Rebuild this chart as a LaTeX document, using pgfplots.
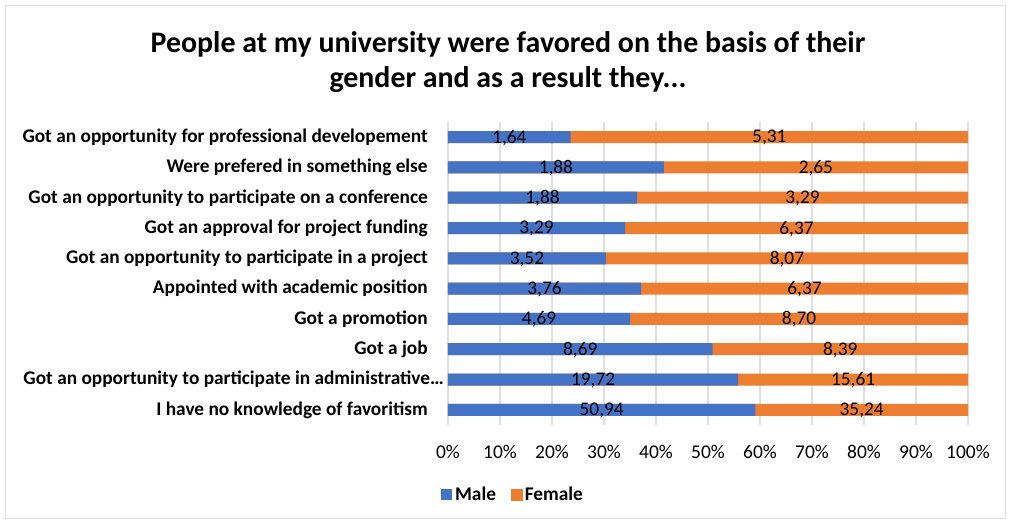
\documentclass[border=0pt]{standalone}
\usepackage{pgfplots}
\usepackage{pgfplotstable}
\pgfplotsset{compat=1.18}
\usepackage{fontspec}
\setmainfont{Carlito}
\definecolor{xlblue}{HTML}{4472C4}
\definecolor{xlorange}{HTML}{ED7D31}
\pgfplotstableread{
idx male female mlab flab
0 50.94 35.24 50,94 35,24
1 19.72 15.61 19,72 15,61
2 8.69 8.39 8,69 8,39
3 4.69 8.70 4,69 8,70
4 3.76 6.37 3,76 6,37
5 3.52 8.07 3,52 8,07
6 3.29 6.37 3,29 6,37
7 1.88 3.29 1,88 3,29
8 1.88 2.65 1,88 2,65
9 1.64 5.31 1,64 5,31
}\datatable
\begin{document}
\begin{tikzpicture}
\useasboundingbox (0,0) rectangle (758.25pt,393pt);
\draw[black!12, line width=0.8pt] (4.2pt,4pt) rectangle (754pt,389.2pt);
\node[font=\fontsize{22.4}{26.3}\selectfont\bfseries, align=center] at (381pt,346.5pt)
 {People at my university were favored on the basis of their\\gender and as a result they...};
\begin{axis}[
  at={(336pt,74.25pt)}, anchor=south west,
  scale only axis, width=390pt, height=227.25pt,
  xmin=0, xmax=100, ymin=-0.5, ymax=9.5,
  axis line style={draw=none},
  major tick length=0pt,
  xmajorgrids, grid style={black!12, line width=0.8pt},
  xtick={0,10,...,100},
  xticklabel={\pgfmathprintnumber{\tick}\%},
  /pgf/number format/assume math mode=true,
  xticklabel style={font=\fontsize{14.6}{17}\selectfont, anchor=center, yshift=-20pt},
  ytick={0,...,9},
  yticklabels={I have no knowledge of favoritism,
    Got an opportunity to participate in administrative…\hspace*{-12pt},
    Got a job, Got a promotion, Appointed with academic position,
    Got an opportunity to participate in a project,
    Got an approval for project funding,
    Got an opportunity to participate on a conference,
    Were prefered in something else,
    Got an opportunity for professional developement},
  yticklabel style={font=\fontsize{14.5}{17}\selectfont\bfseries, anchor=east, inner sep=0pt, xshift=-15pt},
  every node near coord/.style={anchor=center, font=\fontsize{14.5}{17}\selectfont, text=black, yshift=-0.5pt},
  legend columns=2,
  legend style={draw=none, at={(0.126,-0.229)}, anchor=center,
    font=\fontsize{14.5}{17}\selectfont\bfseries,
    /tikz/every odd column/.append style={column sep=0pt},
    /tikz/every even column/.append style={column sep=9pt}},
  legend cell align=left,
]
\addplot[xbar, bar width=9pt, bar shift=0pt, fill=xlorange, draw=none, forget plot]
  table[x expr={100*(\thisrow{male}+\thisrow{female})/(\thisrow{male}+\thisrow{female})}, y=idx] {\datatable};
\addplot[xbar, bar width=9pt, bar shift=0pt, fill=xlblue, draw=none,
  legend image code/.code={\fill[xlblue] (0pt,-4.1pt) rectangle (8.2pt,4.1pt);}]
  table[x expr={100*\thisrow{male}/(\thisrow{male}+\thisrow{female})}, y=idx] {\datatable};
\addlegendentry{Male}
\addlegendimage{legend image code/.code={\fill[xlorange] (0pt,-4.1pt) rectangle (8.2pt,4.1pt);}}
\addlegendentry{Female}
\addplot[draw=none, mark=none, nodes near coords, point meta=explicit symbolic, forget plot]
  table[x expr={50*\thisrow{male}/(\thisrow{male}+\thisrow{female})}, y=idx, meta=mlab] {\datatable};
\addplot[draw=none, mark=none, nodes near coords, point meta=explicit symbolic, forget plot]
  table[x expr={50+50*\thisrow{male}/(\thisrow{male}+\thisrow{female})}, y=idx, meta=flab] {\datatable};
\end{axis}
\end{tikzpicture}
\end{document}
